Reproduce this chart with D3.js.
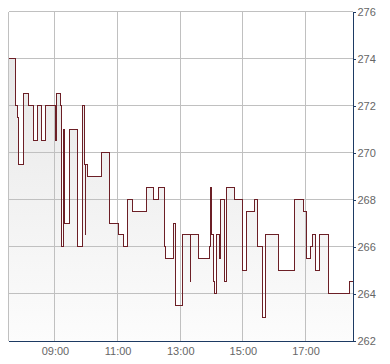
<!DOCTYPE html>
<html>
<head>
<meta charset="utf-8">
<script src="https://cdn.jsdelivr.net/npm/d3@7"></script>
<style>
  body { margin: 0; background: #fff; }
  svg { display: block; }
  .tick text, .lbl { font-family: "Liberation Sans", Arial, sans-serif; font-size: 11px; fill: #666; }
</style>
</head>
<body>
<svg id="chart" width="390" height="364"></svg>
<script>
// trade times and prices (step series)
const times = ["07:31","07:45","07:48","07:51","07:59","08:10","08:18","08:26","08:35","08:42",
  "09:01","09:02","09:10","09:12","09:17","09:19","09:28","09:43","09:52","09:57",
  "09:58","09:59","10:03","10:30","10:44","11:01","11:11","11:19","11:28","11:55",
  "12:08","12:18","12:29","12:32","12:47","12:50","13:04","13:19","13:20","13:35",
  "13:56","13:58","13:59","14:03","14:05","14:10","14:16","14:18","14:24","14:29",
  "14:44","14:59","15:06","15:22","15:28","15:37","15:44","16:08","16:39","16:57",
  "17:02","17:10","17:14","17:20","17:27","17:44","18:24","18:30"];
const prices = [274,272,271.5,269.5,272.5,272,270.5,272,270.5,272,
  270.5,272.5,272,266,271,267,271,266,272,269.5,
  266.5,269.5,269,270,267,266.5,266,268,267.5,268.5,
  268,268.5,266,265.5,267,263.5,266.5,264.5,266.5,265.5,
  266,268.5,266.5,264.5,264,266.5,265.5,268,264.5,268.5,
  268,265,267.5,268,266,263,266.5,265,268,267.5,
  265.5,266,266.5,265,266.5,264,264.5,264.5];
const xTicks = ["09:00","11:00","13:00","15:00","17:00"];
const yTicks = [262,264,266,268,270,272,274,276];
const xStart = "07:31", xEnd = "18:30";

const parseT = d3.timeParse("%H:%M");
const data = times.map((t, i) => ({ t: parseT(t), v: prices[i] }));

const svg = d3.select("#chart");
const plot = { left: 8.5, right: 352.5, top: 11.5, bottom: 340.5 };

const x = d3.scaleTime().domain([parseT(xStart), parseT(xEnd)]).range([plot.left, plot.right]);
const y = d3.scaleLinear().domain([262, 276]).range([plot.bottom, plot.top]);

// gradient for the area
const defs = svg.append("defs");
const grad = defs.append("linearGradient")
  .attr("id", "fillGrad")
  .attr("gradientUnits", "userSpaceOnUse")
  .attr("x1", 0).attr("y1", plot.top).attr("x2", 0).attr("y2", plot.bottom);
grad.append("stop").attr("offset", "0%").attr("stop-color", "#e4e4e4");
grad.append("stop").attr("offset", "100%").attr("stop-color", "#fcfcfc");

// area under the line
const area = d3.area()
  .curve(d3.curveStepAfter)
  .x(d => x(d.t))
  .y0(y(262))
  .y1(d => y(d.v));
svg.append("path")
  .datum(data)
  .attr("d", area)
  .attr("fill", "url(#fillGrad)");

// grid
const grid = svg.append("g").attr("stroke", "#c0c0c0").attr("stroke-width", 1).attr("shape-rendering", "crispEdges");
grid.selectAll(".hg")
  .data(yTicks.filter(v => v > 262))
  .join("line")
  .attr("x1", plot.left).attr("x2", plot.right)
  .attr("y1", d => y(d)).attr("y2", d => y(d));
grid.selectAll(".vg")
  .data(xTicks)
  .join("line")
  .attr("x1", d => x(parseT(d))).attr("x2", d => x(parseT(d)))
  .attr("y1", plot.top).attr("y2", plot.bottom);
grid.append("line")
  .attr("x1", plot.left).attr("x2", plot.left)
  .attr("y1", plot.top).attr("y2", plot.bottom);

// price line
const line = d3.line()
  .curve(d3.curveStepAfter)
  .x(d => x(d.t))
  .y(d => y(d.v));
svg.append("path")
  .datum(data)
  .attr("d", line)
  .attr("fill", "none")
  .attr("stroke", "#6c1f26")
  .attr("stroke-width", 1)
  .attr("shape-rendering", "crispEdges");

// axes
const axisColor = "#1d3a63";
const yAxis = svg.append("g")
  .attr("transform", `translate(${plot.right},0)`)
  .call(d3.axisRight(y).tickValues(yTicks).tickSize(3).tickSizeOuter(0).tickPadding(2).tickFormat(d3.format("d")));
yAxis.select(".domain").attr("stroke", axisColor).attr("shape-rendering", "crispEdges");
yAxis.selectAll(".tick line").attr("stroke", axisColor).attr("shape-rendering", "crispEdges");

const xAxis = svg.append("g")
  .attr("transform", `translate(0,${plot.bottom})`)
  .call(d3.axisBottom(x).tickValues(xTicks.map(parseT)).tickSize(0).tickSizeOuter(0).tickPadding(7).tickFormat(d3.timeFormat("%H:%M")));
xAxis.select(".domain").attr("stroke", axisColor).attr("shape-rendering", "crispEdges");
</script>
</body>
</html>
